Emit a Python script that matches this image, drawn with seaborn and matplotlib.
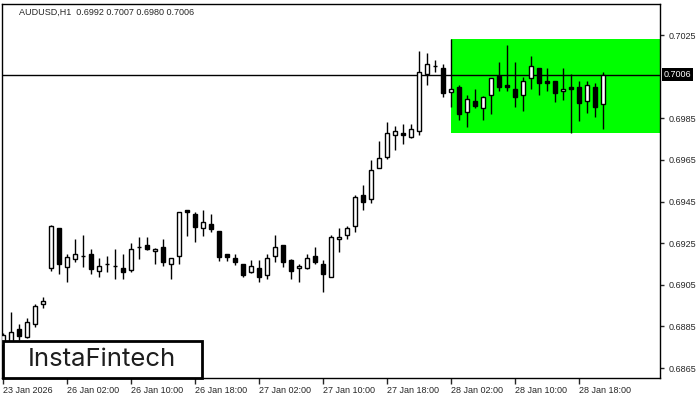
import numpy as np
import pandas as pd
import matplotlib
matplotlib.use('Agg')
import matplotlib.pyplot as plt
import seaborn as sns
from matplotlib.patches import Rectangle

# AUDUSD H1 candles
opens = [0.68762, 0.68776, 0.68838, 0.68799, 0.68861, 0.68957, 0.69130, 0.69322, 0.69137, 0.69176,
         0.69187, 0.69198, 0.69118, 0.69149, 0.69139, 0.69130, 0.69120, 0.69231, 0.69240, 0.69211,
         0.69231, 0.69149, 0.69187, 0.69408, 0.69389, 0.69322, 0.69341, 0.69309, 0.69197, 0.69178,
         0.69149, 0.69111, 0.69130, 0.69099, 0.69187, 0.69240, 0.69168, 0.69130, 0.69130, 0.69187,
         0.69149, 0.69089, 0.69269, 0.69288, 0.69331, 0.69480, 0.69461, 0.69610, 0.69665, 0.69768,
         0.69778, 0.69759, 0.69787, 0.70064, 0.70099, 0.70090, 0.69977, 0.69999, 0.69879, 0.69931,
         0.69898, 0.69960, 0.70051, 0.70008, 0.69989, 0.69960, 0.70042, 0.70090, 0.70027, 0.70027,
         0.69979, 0.69999, 0.69999, 0.69931, 0.69999, 0.69920]
highs = [0.68819, 0.68921, 0.68862, 0.68891, 0.68958, 0.68993, 0.69335, 0.69322, 0.69198, 0.69269,
         0.69290, 0.69222, 0.69179, 0.69187, 0.69222, 0.69198, 0.69253, 0.69279, 0.69279, 0.69225,
         0.69269, 0.69180, 0.69399, 0.69410, 0.69399, 0.69410, 0.69390, 0.69309, 0.69200, 0.69198,
         0.69149, 0.69170, 0.69170, 0.69198, 0.69290, 0.69240, 0.69176, 0.69149, 0.69198, 0.69232,
         0.69168, 0.69288, 0.69322, 0.69331, 0.69480, 0.69528, 0.69650, 0.69741, 0.69831, 0.69811,
         0.69821, 0.69821, 0.70171, 0.70162, 0.70128, 0.70109, 0.70230, 0.70008, 0.69960, 0.69989,
         0.69955, 0.70045, 0.70119, 0.70202, 0.70119, 0.70049, 0.70147, 0.70090, 0.70090, 0.70027,
         0.70090, 0.70061, 0.70027, 0.70027, 0.70018, 0.70070]
lows = [0.68738, 0.68762, 0.68786, 0.68795, 0.68849, 0.68938, 0.69118, 0.69101, 0.69065, 0.69159,
        0.69137, 0.69101, 0.69089, 0.69109, 0.69077, 0.69077, 0.69111, 0.69176, 0.69218, 0.69149,
        0.69139, 0.69077, 0.69149, 0.69286, 0.69257, 0.69286, 0.69305, 0.69166, 0.69166, 0.69147,
        0.69089, 0.69105, 0.69065, 0.69077, 0.69157, 0.69137, 0.69077, 0.69065, 0.69128, 0.69149,
        0.69017, 0.69089, 0.69209, 0.69269, 0.69305, 0.69408, 0.69442, 0.69610, 0.69656, 0.69699,
        0.69728, 0.69755, 0.69768, 0.70008, 0.70071, 0.69951, 0.69905, 0.69840, 0.69809, 0.69898,
        0.69840, 0.69869, 0.69979, 0.69979, 0.69905, 0.69886, 0.69989, 0.69960, 0.69979, 0.69929,
        0.69939, 0.69778, 0.69838, 0.69877, 0.69857, 0.69800]
closes = [0.68810, 0.68825, 0.68806, 0.68871, 0.68949, 0.68971, 0.69333, 0.69149, 0.69185, 0.69198,
          0.69186, 0.69128, 0.69139, 0.69150, 0.69138, 0.69111, 0.69221, 0.69230, 0.69221, 0.69221,
          0.69159, 0.69177, 0.69399, 0.69399, 0.69329, 0.69351, 0.69320, 0.69185, 0.69185, 0.69157,
          0.69099, 0.69139, 0.69089, 0.69178, 0.69231, 0.69159, 0.69118, 0.69139, 0.69178, 0.69159,
          0.69100, 0.69279, 0.69279, 0.69322, 0.69471, 0.69449, 0.69600, 0.69658, 0.69778, 0.69787,
          0.69768, 0.69797, 0.70071, 0.70109, 0.70099, 0.69970, 0.69989, 0.69869, 0.69941, 0.69907,
          0.69951, 0.70042, 0.69999, 0.69999, 0.69951, 0.70027, 0.70099, 0.70018, 0.70018, 0.69970,
          0.69989, 0.69989, 0.69922, 0.70008, 0.69905, 0.70060]

time_labels = ['23 Jan 2026', '26 Jan 02:00', '26 Jan 10:00', '26 Jan 18:00', '27 Jan 02:00',
               '27 Jan 10:00', '27 Jan 18:00', '28 Jan 02:00', '28 Jan 10:00', '28 Jan 18:00']
price_ticks = [0.7025, 0.6985, 0.6965, 0.6945, 0.6925, 0.6905, 0.6885, 0.6865]
last_price = 0.7006
box_start = 56          # pattern starts at this bar
box_top = 0.70230
box_bottom = 0.69778

df = pd.DataFrame({'open': opens, 'high': highs, 'low': lows, 'close': closes})
df['bar'] = np.arange(len(df))
df['up'] = df['close'] >= df['open']

sns.set_style('white')
plt.rcParams['font.family'] = ['Liberation Sans', 'DejaVu Sans']

fig = plt.figure(figsize=(7, 4), dpi=100)
ax = fig.add_axes([2 / 700, 22 / 400, 658 / 700, 374 / 400])

# green rectangle pattern
ax.add_patch(Rectangle((box_start, box_bottom), 40, box_top - box_bottom,
                       facecolor='#00ff00', edgecolor='none', zorder=1))
ax.axhline(last_price, color='black', lw=1, zorder=2)

# candles
ax.vlines(df['bar'], df['low'], df['high'], color='black', lw=1, zorder=3)
body_low = df[['open', 'close']].min(axis=1)
body_h = (df['close'] - df['open']).abs()
ax.bar(df['bar'], body_h, bottom=body_low, width=0.6,
       color=np.where(df['up'], 'white', 'black'), edgecolor='black', lw=1, zorder=4)

ax.set_xlim(-0.125, 82.125)
ax.set_ylim(0.68602, 0.70399)

ax.set_xticks(df['bar'][::8])
ax.set_xticklabels(time_labels, fontsize=6.5)
for lbl in ax.get_xticklabels():
    lbl.set_ha('left')
ax.tick_params(axis='x', direction='out', length=4, width=1, pad=2, bottom=True)

ax.yaxis.tick_right()
ax.set_yticks(price_ticks)
ax.set_yticklabels([f'{p:.4f}' for p in price_ticks], fontsize=6.5)
ax.tick_params(axis='y', direction='out', length=3, width=1, pad=3, right=True)

for s in ax.spines.values():
    s.set_color('black')
    s.set_linewidth(1)

# current price tag
ax.text(1.006, last_price, f'{last_price:.4f}', transform=ax.get_yaxis_transform(),
        fontsize=6.5, color='white', va='center', ha='left',
        bbox=dict(facecolor='black', edgecolor='none', pad=1.2), clip_on=False)

fig.text(19 / 700, 1 - 12.5 / 400, 'AUDUSD,H1  0.6992 0.7007 0.6980 0.7006',
         fontsize=6.5, va='center', ha='left')

# logo box
fig.patches.append(Rectangle((3 / 700, 22 / 400), 199 / 700, 37 / 400, transform=fig.transFigure,
                             facecolor='white', edgecolor='black', lw=2, zorder=10))
fig.text(102 / 700, 1 - 359.5 / 400, 'InstaFintech', fontsize=18.5, color='#1e1e1e',
         family=['Inter', 'DejaVu Sans'], weight='normal', ha='center', va='center', zorder=11)

fig.savefig('out.png', dpi=100)
